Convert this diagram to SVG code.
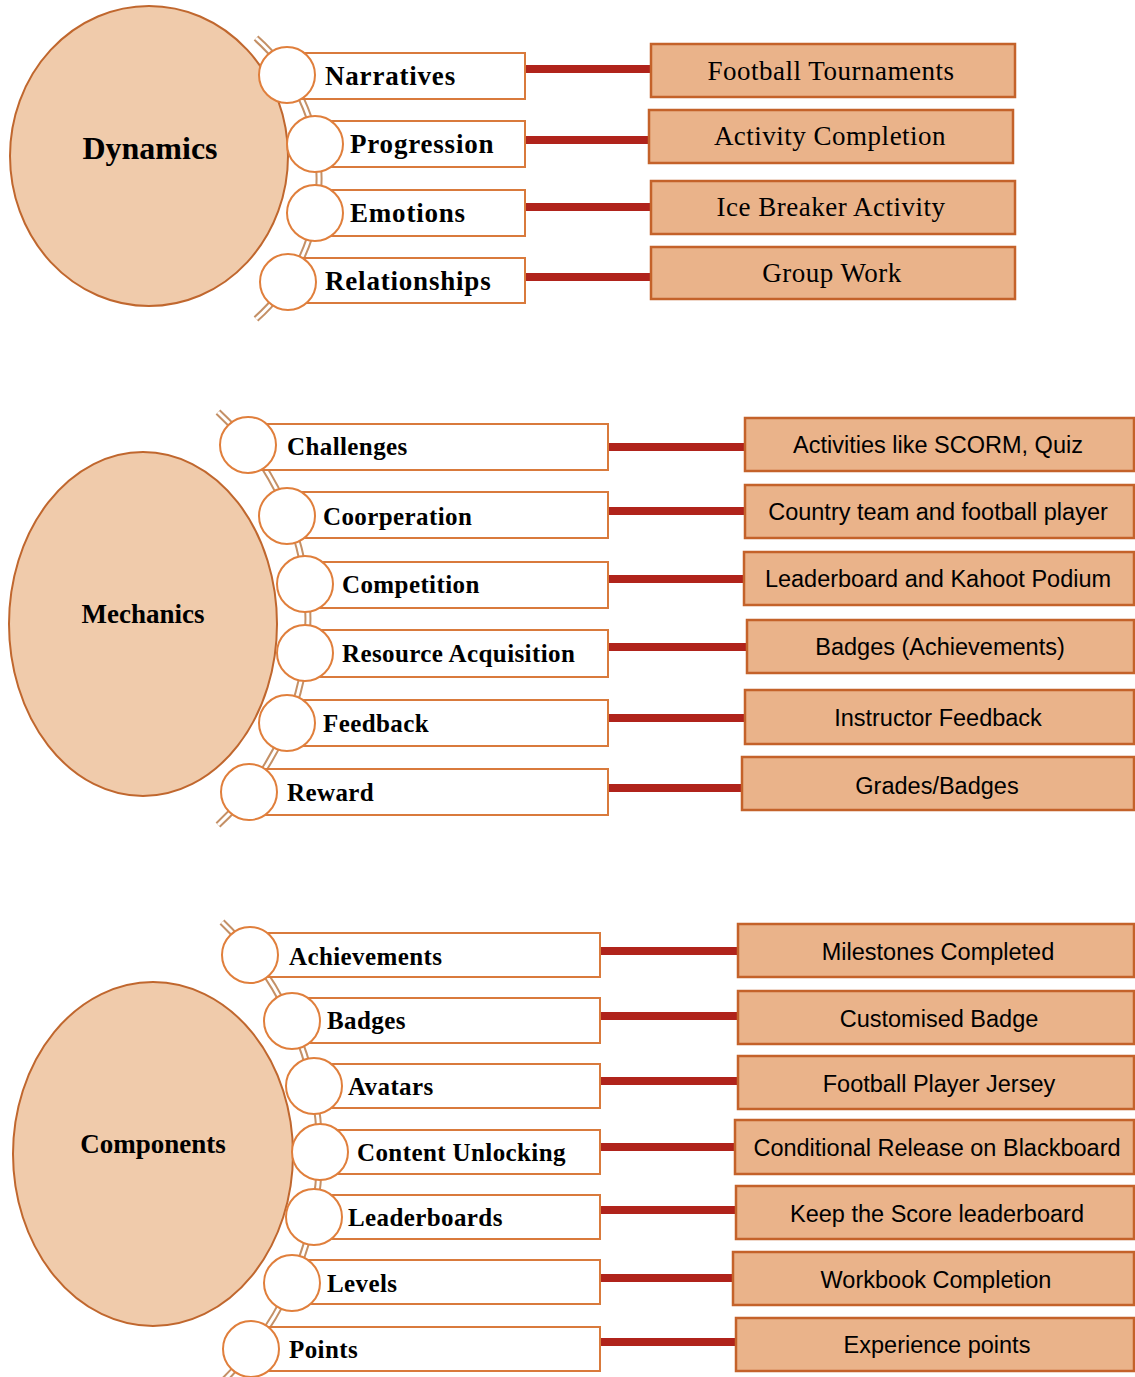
<svg xmlns="http://www.w3.org/2000/svg" width="1135" height="1377" viewBox="0 0 1135 1377">
<style>
.big{fill:#f0cbab;stroke:#c0672e;stroke-width:2}
.arcO{fill:none;stroke:#c49066;stroke-width:7}
.arcI{fill:none;stroke:#ffffff;stroke-width:3}
.dot{fill:#ffffff;stroke:#e07f3c;stroke-width:2}
.lbox{fill:#ffffff;stroke:#d97a3c;stroke-width:2}
.rbox{fill:#eab38a;stroke:#c4622a;stroke-width:2.5}
.conn{stroke:#b0231b;stroke-width:8}
.title{font-family:"Liberation Serif",serif;font-weight:bold;fill:#000;text-anchor:middle}
.lab{font-family:"Liberation Serif",serif;font-weight:bold;fill:#000;letter-spacing:0.4px}
.lab1{letter-spacing:0.8px}
.rs{font-family:"Liberation Serif",serif;font-size:27px;fill:#000;text-anchor:middle;letter-spacing:0.5px}
.rsa{font-family:"Liberation Sans",sans-serif;font-size:23.5px;fill:#000;text-anchor:middle}
</style>
<rect width="1135" height="1377" fill="#ffffff"/>
<g id="spines">
<path class="arcO" d="M256,38 A188,188 0 0 1 256,319"/>
<path class="arcI" d="M256,38 A188,188 0 0 1 256,319"/>
<path class="arcO" d="M218,412 A282,282 0 0 1 218,825"/>
<path class="arcI" d="M218,412 A282,282 0 0 1 218,825"/>
<path class="arcO" d="M222,922 A320,320 0 0 1 219,1385"/>
<path class="arcI" d="M222,922 A320,320 0 0 1 219,1385"/>
</g>
<g id="connectors">
<line class="conn" x1="524" y1="69" x2="651" y2="69"/>
<line class="conn" x1="524" y1="140" x2="649" y2="140"/>
<line class="conn" x1="524" y1="207" x2="651" y2="207"/>
<line class="conn" x1="524" y1="277" x2="651" y2="277"/>
<line class="conn" x1="607" y1="447" x2="745" y2="447"/>
<line class="conn" x1="607" y1="511" x2="745" y2="511"/>
<line class="conn" x1="607" y1="579" x2="744" y2="579"/>
<line class="conn" x1="607" y1="647" x2="747" y2="647"/>
<line class="conn" x1="605" y1="718" x2="745" y2="718"/>
<line class="conn" x1="605" y1="788" x2="742" y2="788"/>
<line class="conn" x1="599" y1="951" x2="738" y2="951"/>
<line class="conn" x1="599" y1="1016" x2="738" y2="1016"/>
<line class="conn" x1="599" y1="1081" x2="738" y2="1081"/>
<line class="conn" x1="599" y1="1147" x2="735" y2="1147"/>
<line class="conn" x1="599" y1="1210" x2="736" y2="1210"/>
<line class="conn" x1="599" y1="1278" x2="733" y2="1278"/>
<line class="conn" x1="599" y1="1342" x2="736" y2="1342"/>
</g>
<g id="dynamics"><ellipse class="big" cx="149" cy="156" rx="139" ry="150"/><text class="title" x="150" y="159" font-size="32">Dynamics</text></g>
<g id="narratives"><rect class="lbox" x="287" y="53" width="238" height="46"/><circle class="dot" cx="287" cy="75" r="28"/><text class="lab lab1" x="325" y="85" font-size="27">Narratives</text></g>
<g id="progression"><rect class="lbox" x="315" y="121" width="210" height="46"/><circle class="dot" cx="315" cy="144" r="28"/><text class="lab lab1" x="350" y="153" font-size="27">Progression</text></g>
<g id="emotions"><rect class="lbox" x="315" y="190" width="210" height="46"/><circle class="dot" cx="315" cy="213" r="28"/><text class="lab lab1" x="350" y="222" font-size="27">Emotions</text></g>
<g id="relationships"><rect class="lbox" x="288" y="258" width="237" height="45"/><circle class="dot" cx="288" cy="282" r="28"/><text class="lab lab1" x="325" y="290" font-size="27">Relationships</text></g>
<g id="football-tournaments"><rect class="rbox" x="651" y="44" width="364" height="53"/><text class="rs" x="831" y="80">Football Tournaments</text></g>
<g id="activity-completion"><rect class="rbox" x="649" y="110" width="364" height="53"/><text class="rs" x="830" y="145">Activity Completion</text></g>
<g id="ice-breaker"><rect class="rbox" x="651" y="181" width="364" height="53"/><text class="rs" x="831" y="216">Ice Breaker Activity</text></g>
<g id="group-work"><rect class="rbox" x="651" y="247" width="364" height="52"/><text class="rs" x="832" y="282">Group Work</text></g>
<g id="mechanics"><ellipse class="big" cx="143" cy="624" rx="134" ry="172"/><text class="title" x="143" y="623" font-size="27">Mechanics</text></g>
<g id="challenges"><rect class="lbox" x="248" y="424" width="360" height="46"/><circle class="dot" cx="248" cy="445" r="28"/><text class="lab" x="287" y="455" font-size="25">Challenges</text></g>
<g id="coorperation"><rect class="lbox" x="287" y="492" width="321" height="46"/><circle class="dot" cx="287" cy="516" r="28"/><text class="lab" x="323" y="525" font-size="25">Coorperation</text></g>
<g id="competition"><rect class="lbox" x="305" y="562" width="303" height="46"/><circle class="dot" cx="305" cy="584" r="28"/><text class="lab" x="342" y="593" font-size="25">Competition</text></g>
<g id="resource-acquisition"><rect class="lbox" x="305" y="630" width="303" height="47"/><circle class="dot" cx="305" cy="653" r="28"/><text class="lab" x="342" y="662" font-size="25">Resource Acquisition</text></g>
<g id="feedback"><rect class="lbox" x="287" y="700" width="321" height="46"/><circle class="dot" cx="287" cy="723" r="28"/><text class="lab" x="323" y="732" font-size="25">Feedback</text></g>
<g id="reward"><rect class="lbox" x="249" y="769" width="359" height="46"/><circle class="dot" cx="249" cy="792" r="28"/><text class="lab" x="287" y="801" font-size="25">Reward</text></g>
<g id="scorm"><rect class="rbox" x="745" y="418" width="389" height="53"/><text class="rsa" x="938" y="453">Activities like SCORM, Quiz</text></g>
<g id="country-team"><rect class="rbox" x="745" y="485" width="389" height="53"/><text class="rsa" x="938" y="520">Country team and football player</text></g>
<g id="kahoot"><rect class="rbox" x="744" y="552" width="390" height="53"/><text class="rsa" x="938" y="587">Leaderboard and Kahoot Podium</text></g>
<g id="badges-ach"><rect class="rbox" x="747" y="620" width="387" height="53"/><text class="rsa" x="940" y="655">Badges (Achievements)</text></g>
<g id="instructor"><rect class="rbox" x="745" y="690" width="389" height="54"/><text class="rsa" x="938" y="726">Instructor Feedback</text></g>
<g id="grades"><rect class="rbox" x="742" y="757" width="392" height="53"/><text class="rsa" x="937" y="794">Grades/Badges</text></g>
<g id="components"><ellipse class="big" cx="153" cy="1154" rx="140" ry="172"/><text class="title" x="153" y="1153" font-size="27">Components</text></g>
<g id="achievements"><rect class="lbox" x="250" y="933" width="350" height="44"/><circle class="dot" cx="250" cy="955" r="28"/><text class="lab" x="289" y="965" font-size="25">Achievements</text></g>
<g id="badges"><rect class="lbox" x="292" y="998" width="308" height="45"/><circle class="dot" cx="292" cy="1021" r="28"/><text class="lab" x="327" y="1029" font-size="25">Badges</text></g>
<g id="avatars"><rect class="lbox" x="314" y="1064" width="286" height="44"/><circle class="dot" cx="314" cy="1086" r="28"/><text class="lab" x="348" y="1095" font-size="25">Avatars</text></g>
<g id="content-unlocking"><rect class="lbox" x="320" y="1130" width="280" height="44"/><circle class="dot" cx="320" cy="1152" r="28"/><text class="lab" x="357" y="1161" font-size="25">Content Unlocking</text></g>
<g id="leaderboards"><rect class="lbox" x="314" y="1195" width="286" height="44"/><circle class="dot" cx="314" cy="1217" r="28"/><text class="lab" x="348" y="1226" font-size="25">Leaderboards</text></g>
<g id="levels"><rect class="lbox" x="292" y="1260" width="308" height="44"/><circle class="dot" cx="292" cy="1283" r="28"/><text class="lab" x="327" y="1292" font-size="25">Levels</text></g>
<g id="points"><rect class="lbox" x="251" y="1327" width="349" height="44"/><circle class="dot" cx="251" cy="1349" r="28"/><text class="lab" x="289" y="1358" font-size="25">Points</text></g>
<g id="milestones"><rect class="rbox" x="738" y="924" width="396" height="53"/><text class="rsa" x="938" y="960">Milestones Completed</text></g>
<g id="customised-badge"><rect class="rbox" x="738" y="991" width="396" height="53"/><text class="rsa" x="939" y="1027">Customised Badge</text></g>
<g id="jersey"><rect class="rbox" x="738" y="1056" width="396" height="53"/><text class="rsa" x="939" y="1092">Football Player Jersey</text></g>
<g id="conditional"><rect class="rbox" x="735" y="1120" width="399" height="54"/><text class="rsa" x="937" y="1156">Conditional Release on Blackboard</text></g>
<g id="keep-score"><rect class="rbox" x="736" y="1186" width="398" height="53"/><text class="rsa" x="937" y="1222">Keep the Score leaderboard</text></g>
<g id="workbook"><rect class="rbox" x="733" y="1252" width="401" height="53"/><text class="rsa" x="936" y="1288">Workbook Completion</text></g>
<g id="experience"><rect class="rbox" x="736" y="1318" width="398" height="53"/><text class="rsa" x="937" y="1353">Experience points</text></g>
</svg>
